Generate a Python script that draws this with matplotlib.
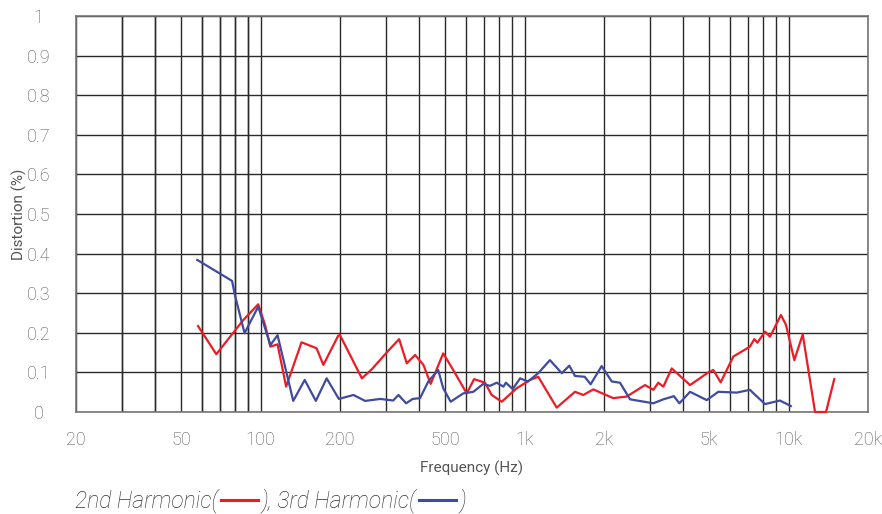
import matplotlib
matplotlib.use("Agg")
import matplotlib.pyplot as plt
from matplotlib.lines import Line2D
import numpy as np

# 2nd harmonic (red)
f2 = [58, 68, 86, 98, 104, 109, 116, 125, 143, 163, 173, 197, 200, 242, 264, 305, 335,
      358, 385, 414, 441, 492, 537, 604, 644, 708, 751, 820, 934, 1050, 1127, 1324,
      1553, 1670, 1822, 2168, 2438, 2860, 3076, 3212, 3356, 3610, 4236, 4966, 5188,
      5534, 6180, 7140, 7420, 7620, 8150, 8510, 9360, 9780, 10520, 11320, 12600,
      13870, 14900]
d2 = [0.217, 0.146, 0.232, 0.272, 0.220, 0.165, 0.171, 0.064, 0.176, 0.161, 0.119,
      0.193, 0.194, 0.085, 0.108, 0.155, 0.184, 0.123, 0.144, 0.119, 0.071, 0.148,
      0.106, 0.047, 0.083, 0.074, 0.043, 0.026, 0.060, 0.081, 0.089, 0.011, 0.051,
      0.043, 0.057, 0.035, 0.039, 0.068, 0.056, 0.074, 0.064, 0.110, 0.068, 0.100,
      0.106, 0.075, 0.140, 0.165, 0.184, 0.175, 0.203, 0.190, 0.245, 0.220, 0.131,
      0.196, 0.0, 0.0, 0.083]

# 3rd harmonic (blue)
f3 = [57.6, 78, 80, 87, 98, 109, 116, 133, 147, 162, 178, 198, 225, 249, 284, 318,
      333, 356, 377, 402, 432, 471, 492, 525, 586, 640, 698, 740, 784, 832, 850, 902,
      962, 1030, 1127, 1248, 1384, 1478, 1553, 1690, 1780, 1960, 2140, 2300, 2510,
      3076, 3356, 3680, 3860, 4236, 4900, 5420, 6370, 7140, 7480, 8150, 9280, 10200]
d3 = [0.384, 0.331, 0.295, 0.199, 0.266, 0.169, 0.194, 0.028, 0.081, 0.028, 0.085,
      0.033, 0.043, 0.028, 0.033, 0.029, 0.043, 0.022, 0.033, 0.035, 0.077, 0.106,
      0.060, 0.026, 0.047, 0.051, 0.071, 0.066, 0.074, 0.064, 0.074, 0.058, 0.085,
      0.077, 0.098, 0.131, 0.098, 0.117, 0.091, 0.089, 0.070, 0.116, 0.077, 0.074,
      0.032, 0.022, 0.032, 0.040, 0.022, 0.051, 0.030, 0.051, 0.049, 0.056, 0.043,
      0.020, 0.029, 0.015]

xticks = [20, 50, 100, 200, 500, 1000, 2000, 5000, 10000, 20000]
xlabels = ["20", "50", "100", "200", "500", "1k", "2k", "5k", "10k", "20k"]
yticks = [0, 0.1, 0.2, 0.3, 0.4, 0.5, 0.6, 0.7, 0.8, 0.9, 1]
ylabels = ["0", "0.1", "0.2", "0.3", "0.4", "0.5", "0.6", "0.7", "0.8", "0.9", "1"]

red = "#ed1c24"
blue = "#3f4ba0"
txt = "#555555"

plt.rcParams['font.family'] = ['Roboto', 'DejaVu Sans']
plt.rcParams['font.weight'] = 'light'

fig = plt.figure(figsize=(8.82, 5.14), dpi=100)
ax = fig.add_axes([76/882, 102/514, 792/882, 396/514])

gridf = [a * b for b in [10, 100, 1000] for a in range(2, 10)] + [10000] + \
        [a * 10 for a in range(3, 10)] + [100, 1000]
ax.set_xscale("log")
ax.set_xlim(20, 20000)
ax.set_ylim(0, 1)
ax.set_xticks(xticks)
ax.set_xticklabels(xlabels)
ax.set_xticks(gridf, minor=True)
ax.set_xticklabels([], minor=True)
ax.set_yticks(yticks)
ax.set_yticklabels(ylabels)
ax.tick_params(which="both", length=0)
ax.tick_params(axis="x", pad=14, labelsize=13, labelcolor=txt)
ax.tick_params(axis="y", pad=27, labelsize=13, labelcolor=txt)
for lab in ax.get_yticklabels():
    lab.set_horizontalalignment("center")
ax.grid(which="both", color="#2a2a2a", lw=1)
ax.set_axisbelow(True)
for s in ax.spines.values():
    s.set_color("#777777")
    s.set_linewidth(1.2)

ax.plot(f2, d2, color=red, lw=1.6, clip_on=False, zorder=3)
ax.plot(f3, d3, color=blue, lw=1.6, clip_on=False, zorder=3)

ax.set_xlabel("Frequency (Hz)", fontsize=11, color=txt, labelpad=8)
ax.set_ylabel("Distortion (%)", fontsize=11, color=txt, labelpad=0)

# legend line built from text pieces and short line samples
r = fig.canvas.get_renderer()
W, H = 882, 514
x = 75
yb = 514 - 501
fs = 16.5
for piece, col in [("2nd Harmonic(", red), ("), 3rd Harmonic(", blue), (")", None)]:
    t = fig.text(x / W, yb / H, piece, fontsize=fs, style="italic", color="#333333",
                 va="center", ha="left")
    bb = t.get_window_extent(renderer=r)
    x = bb.x1
    if col is not None:
        fig.add_artist(Line2D([(x + 3) / W, (x + 40) / W], [(yb + 1) / H, (yb + 1) / H],
                              color=col, lw=2.2, transform=fig.transFigure))
        x = x + 43

fig.savefig("out.png", dpi=100)
